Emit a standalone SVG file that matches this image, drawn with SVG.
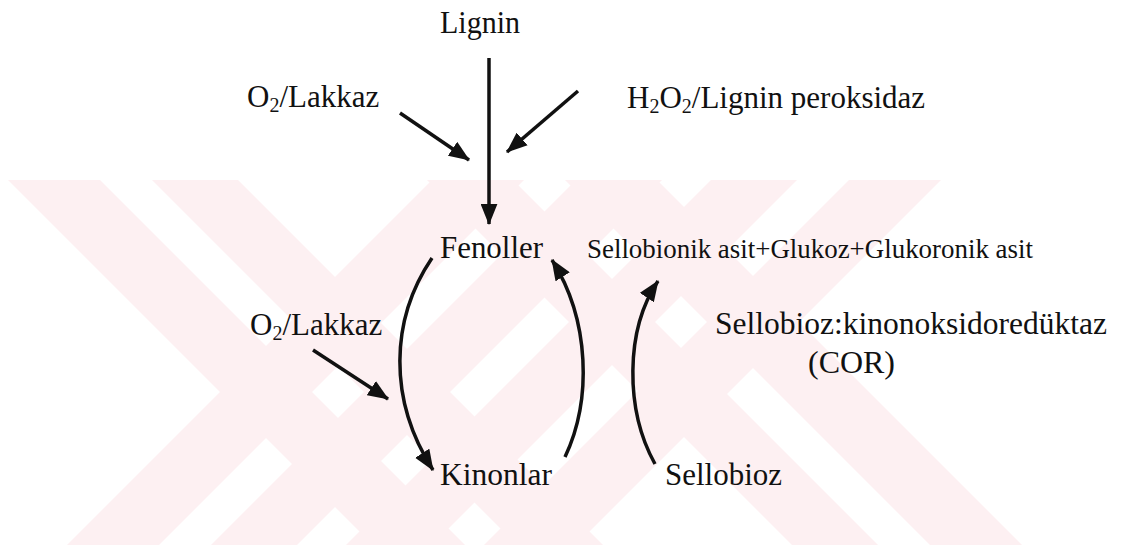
<svg xmlns="http://www.w3.org/2000/svg" width="1124" height="545" viewBox="0 0 1124 545">
  <style>
    text { font-family: 'Liberation Serif', 'DejaVu Serif', serif; font-size: 31px; fill: #111; }
    .s { font-size: 27px; }
    .sub { font-size: 20px; }
    .wm { fill: #fdf0f2; }
    .c { fill: none; stroke: #111; stroke-width: 3.5; stroke-linecap: butt; }
  </style>
  <defs>
    <marker id="ah" viewBox="0 0 20 16" refX="19" refY="8" markerWidth="21" markerHeight="17" markerUnits="userSpaceOnUse" orient="auto">
      <path d="M0,0 L20,8 L0,16 z" fill="#111"/>
    </marker>
    <clipPath id="wmclip">
      <rect x="0" y="180" width="1124" height="365"/>
    </clipPath>
  </defs>
  <rect width="1124" height="545" fill="#fff"/>
  <g id="watermark" class="wm" clip-path="url(#wmclip)">
    <polygon points="8,180 100,180 465,545 373,545"/>
    <polygon points="152,180 238,180 603,545 517,545"/>
    <polygon points="427,180 513,180 878,545 792,545"/>
    <polygon points="565,180 657,180 1022,545 930,545"/>
    <polygon points="432,180 524,180 159,545 67,545"/>
    <polygon points="576,180 662,180 297,545 211,545"/>
    <polygon points="711,180 797,180 432,545 346,545"/>
    <polygon points="849,180 941,180 576,545 484,545"/>
  </g>
  <g id="connectors">
    <path class="c" d="M489,58 L489,224" marker-end="url(#ah)"/>
    <path class="c" d="M400,113 L469,160" marker-end="url(#ah)"/>
    <path class="c" d="M578,91 L507,152" marker-end="url(#ah)"/>
    <path class="c" d="M313,350 L388,399" marker-end="url(#ah)"/>
    <path class="c" d="M432,258 C390,320 388,400 433,470" marker-end="url(#ah)"/>
    <path class="c" d="M565,457 C592,400 590,320 552,260" marker-end="url(#ah)"/>
    <path class="c" d="M655,464 C625,410 625,330 658,281" marker-end="url(#ah)"/>
  </g>
  <g id="lignin"><text x="440" y="33" textLength="80" lengthAdjust="spacingAndGlyphs">Lignin</text></g>
  <g id="o2-lakkaz-top"><text x="247" y="107">O<tspan class="sub" dy="5">2</tspan><tspan dy="-5">/Lakkaz</tspan></text></g>
  <g id="h2o2-lip"><text x="627" y="108">H<tspan class="sub" dy="5">2</tspan><tspan dy="-5">O</tspan><tspan class="sub" dy="5">2</tspan><tspan dy="-5">/Lignin peroksidaz</tspan></text></g>
  <g id="fenoller"><text x="440" y="258" textLength="103" lengthAdjust="spacingAndGlyphs">Fenoller</text></g>
  <g id="products"><text class="s" x="587" y="258" textLength="446" lengthAdjust="spacingAndGlyphs">Sellobionik asit+Glukoz+Glukoronik asit</text></g>
  <g id="o2-lakkaz-mid"><text x="250" y="335">O<tspan class="sub" dy="5">2</tspan><tspan dy="-5">/Lakkaz</tspan></text></g>
  <g id="cor"><text x="715" y="334" textLength="392" lengthAdjust="spacingAndGlyphs">Sellobioz:kinonoksidoredüktaz</text><text x="808" y="373" textLength="87" lengthAdjust="spacingAndGlyphs">(COR)</text></g>
  <g id="kinonlar"><text x="440" y="485" textLength="112" lengthAdjust="spacingAndGlyphs">Kinonlar</text></g>
  <g id="sellobioz"><text x="665" y="485" textLength="117" lengthAdjust="spacingAndGlyphs">Sellobioz</text></g>
</svg>
